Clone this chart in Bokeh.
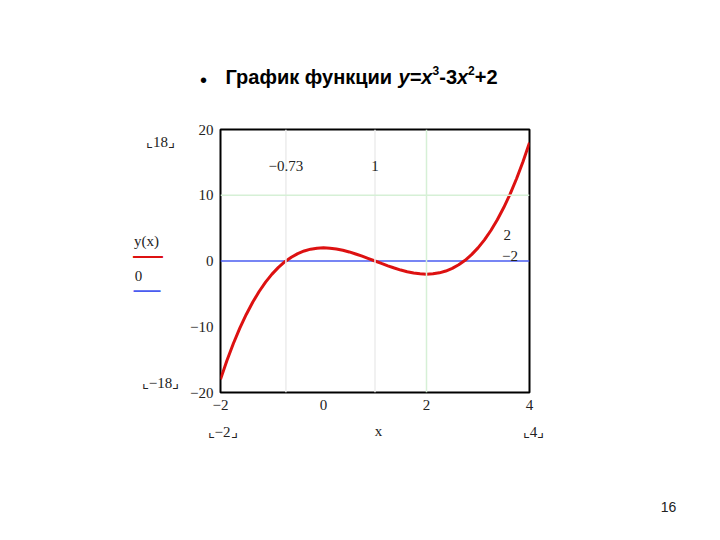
from bokeh.plotting import figure
from bokeh.models import Range1d, Label, Span, FixedTicker
from bokeh.embed import file_html
from bokeh.resources import INLINE

# Values (y = x^3 - 3x^2 + 2)
xs = [-2, -1.875, -1.75, -1.625, -1.5, -1.375, -1.25, -1.125, -1, -0.875, -0.75,
      -0.625, -0.5, -0.375, -0.25, -0.125, 0, 0.125, 0.25, 0.375, 0.5, 0.625,
      0.75, 0.875, 1, 1.125, 1.25, 1.375, 1.5, 1.625, 1.75, 1.875, 2, 2.125,
      2.25, 2.375, 2.5, 2.625, 2.75, 2.875, 3, 3.125, 3.25, 3.375, 3.5, 3.625,
      3.75, 3.875, 4]
ys = [-18, -15.14, -12.55, -10.21, -8.13, -6.27, -4.64, -3.22, -2, -0.97, -0.11,
      0.58, 1.13, 1.53, 1.80, 1.95, 2, 1.95, 1.83, 1.63, 1.38, 1.07,
      0.73, 0.37, 0, -0.37, -0.73, -1.07, -1.38, -1.63, -1.83, -1.95, -2, -1.95,
      -1.80, -1.53, -1.13, -0.58, 0.11, 0.97, 2, 3.22, 4.64, 6.27, 8.13, 10.21,
      12.55, 15.14, 18]
zero_x = [-2, 4]
zero_y = [0, 0]
x_ticks = [-2, 0, 2, 4]
x_tick_labels = ["\u22122", "0", "2", "4"]
y_ticks = [-20, -10, 0, 10, 20]
y_tick_labels = ["\u221220", "\u221210", "0", "10", "20"]
gray_markers_x = [-0.73, 1]
green_marker_x = 2
green_marker_y = 10

p = figure(width=704, height=524, output_backend="svg", toolbar_location=None,
           x_range=Range1d(-2, 4), y_range=Range1d(-20, 20),
           min_border_left=220, min_border_right=175, min_border_top=129,
           min_border_bottom=132)
p.background_fill_color = "white"
p.border_fill_color = "white"
p.outline_line_color = "black"
p.outline_line_width = 2
p.xgrid.visible = False
p.ygrid.visible = False

serif = "Liberation Serif"
sans = "Liberation Sans"
for ax in (p.xaxis[0], p.yaxis[0]):
    ax.axis_line_color = None
    ax.major_tick_line_color = None
    ax.minor_tick_line_color = None
    ax.major_label_text_font = serif
    ax.major_label_text_font_size = "15px"
    ax.major_label_text_color = "#222222"
p.xaxis[0].ticker = FixedTicker(ticks=x_ticks)
p.xaxis[0].major_label_overrides = dict(zip(x_ticks, x_tick_labels))
p.xaxis[0].major_label_standoff = 1
p.yaxis[0].ticker = FixedTicker(ticks=y_ticks)
p.yaxis[0].major_label_overrides = dict(zip(y_ticks, y_tick_labels))
p.yaxis[0].major_label_standoff = 1

# marker lines
for xm in gray_markers_x:
    p.add_layout(Span(location=xm, dimension="height", line_color="#ececec", line_width=1.5))
p.add_layout(Span(location=green_marker_x, dimension="height", line_color="#d6f0d6", line_width=1.5))
p.add_layout(Span(location=green_marker_y, dimension="width", line_color="#d6f0d6", line_width=1.5))

p.line(zero_x, zero_y, line_color="#4a5cf0", line_width=1.5)
p.line(xs, ys, line_color="#dd1111", line_width=3)

def lab(x, y, t, size="15px", font=serif, align="center", base="middle", style="normal",
        color="#222222", place=None):
    l = Label(x=x, y=y, text=t, text_font=font, text_font_size=size,
              text_align=align, text_baseline=base, text_font_style=style,
              text_color=color)
    if place is None:
        p.add_layout(l)
    else:
        p.add_layout(l, place)

# marker labels inside plot
lab(-0.73, 14.5, "\u22120.73")
lab(1.0, 14.5, "1")
lab(3.57, 3.9, "2")
lab(3.62, 0.7, "\u22122")

# range labels outside plot
lab(-3.165, 18.17, "\u231e18\u231f", place="left")
lab(-3.165, -18.48, "\u231e\u221218\u231f", place="right")
lab(-1.96, -26.08, "\u231e\u22122\u231f", place="below")
lab(1.07, -25.93, "x", place="below")
lab(4.08, -26.08, "\u231e4\u231f", place="below")

# left legend
lab(-3.437, 2.97, "y(x)", place="left")
lab(-3.408, 0.99, "\u2014", size="30px", font=sans, base="alphabetic", color="#dd1111", place="left")
lab(-3.592, -2.21, "0", place="right")
lab(-3.427, -4.33, "\u2014", size="27px", font=sans, base="alphabetic", color="#4a5cf0", place="right")

# title
base_y = 27.91
sup_y = 29.0
lab(-2.33, 27.46, "\u2022", size="20px", font=sans, color="black", place="above")
lab(-1.903, base_y, "\u0413\u0440\u0430\u0444\u0438\u043a \u0444\u0443\u043d\u043a\u0446\u0438\u0438",
    size="20px", font=sans, align="left", base="alphabetic", style="bold", color="black", place="above")
title_parts = [(1.456, "y=x", "bold italic", "20px", base_y, "above"),
               (2.117, "3", "bold", "12px", sup_y, "right"),
               (2.247, "-3", "bold", "20px", base_y, "above"),
               (2.592, "x", "bold italic", "20px", base_y, "right"),
               (2.808, "2", "bold", "12px", sup_y, "right"),
               (2.938, "+2", "bold", "20px", base_y, "above")]
for tx, tt, ts, tsz, ty, tp in title_parts:
    lab(tx, ty, tt, size=tsz, font=sans, align="left", base="alphabetic", style=ts,
        color="black", place=tp)

# page number
lab(6.70, -37.34, "16", size="14px", font=sans, color="#222222", place="right")

open("out.html", "w").write(file_html(p, INLINE))
